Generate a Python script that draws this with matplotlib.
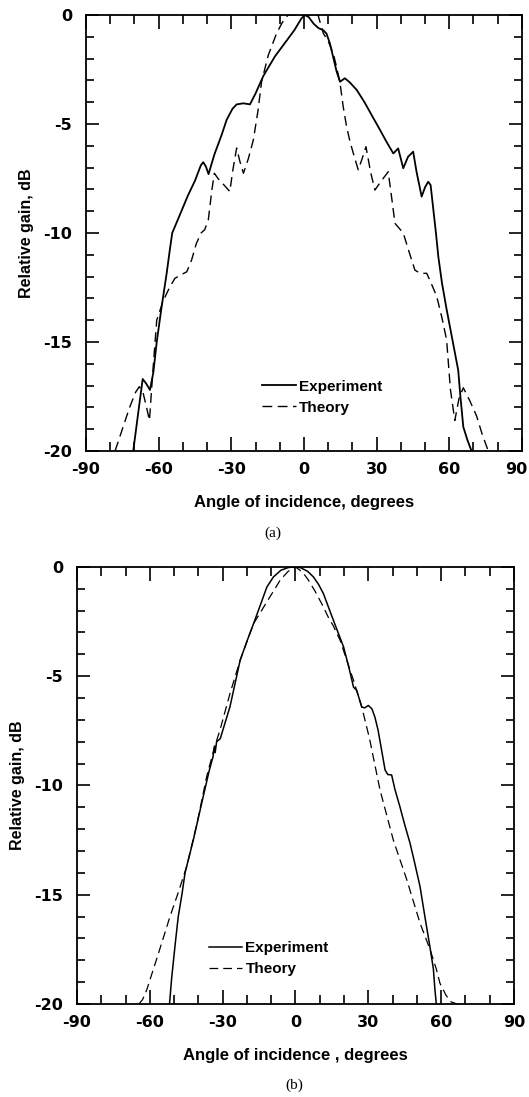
import matplotlib
matplotlib.use("Agg")
import matplotlib.pyplot as plt
import matplotlib.transforms as mtransforms
from matplotlib.ticker import MultipleLocator

# (a) experiment, solid
ang_exp_a = [-70.5, -68.5, -66.6, -65.2, -63.6, -62.2, -60.8, -58.8, -56.7, -55.3,
             -54.4, -51.0, -48.0, -45.0, -42.6, -41.6, -40.5, -39.4, -37.0, -34.0,
             -31.9, -29.5, -27.8, -25.0, -22.3, -20.0, -16.8, -12.0, -8.0, -4.0,
             -1.0, 0.4, 2.0, 4.0, 6.0, 8.0, 9.3, 10.7, 12.0, 13.5,
             14.9, 16.9, 19.0, 21.8, 25.0, 28.0, 31.4, 34.0, 36.9, 38.9,
             41.0, 43.0, 45.1, 46.5, 48.6, 50.0, 51.3, 52.3, 53.3, 54.5,
             55.5, 57.0, 58.9, 61.6, 63.7, 64.6, 65.8, 67.5, 69.2]
gain_exp_a = [-20.0, -18.3, -16.7, -16.9, -17.2, -16.4, -15.0, -13.4, -11.85, -10.7,
              -10.0, -9.1, -8.3, -7.6, -6.9, -6.75, -6.95, -7.3, -6.4, -5.5,
              -4.8, -4.3, -4.1, -4.05, -4.1, -3.6, -2.8, -1.9, -1.3, -0.7,
              -0.15, 0.0, -0.1, -0.4, -0.6, -0.7, -0.85, -1.3, -1.9, -2.6,
              -3.06, -2.9, -3.1, -3.44, -4.0, -4.6, -5.27, -5.8, -6.35, -6.12,
              -7.03, -6.5, -6.27, -7.2, -8.33, -7.9, -7.65, -7.8, -8.8, -10.0,
              -11.1, -12.3, -13.5, -15.07, -16.3, -17.5, -18.9, -19.5, -20.0]

# (a) theory, dashed
ang_th_a = [-78.0, -75.0, -72.0, -69.5, -68.0, -66.5, -65.0, -63.8, -62.5, -60.8,
            -58.1, -55.5, -53.3, -50.5, -48.4, -46.4, -44.5, -42.5, -41.0, -39.5,
            -38.0, -37.0, -35.5, -33.0, -30.6, -29.5, -27.8, -26.5, -25.0, -23.0,
            -20.9, -19.0, -17.5, -14.7, -11.3, -9.0, -6.6, 0.0, 5.8, 8.0,
            10.0, 12.1, 13.5, 14.9, 16.2, 17.6, 19.0, 20.4, 22.4, 24.0,
            25.6, 27.5, 29.3, 32.0, 34.8, 36.0, 37.6, 41.0, 43.5, 45.8,
            48.0, 50.7, 52.5, 54.8, 57.0, 58.9, 59.8, 60.5, 62.3, 64.0,
            65.8, 68.5, 71.3, 73.5, 76.1]
gain_th_a = [-20.0, -19.0, -18.0, -17.3, -17.05, -17.3, -18.0, -18.6, -16.5, -14.0,
             -13.1, -12.5, -12.08, -11.9, -11.78, -11.24, -10.5, -10.0, -9.85, -9.4,
             -8.0, -7.26, -7.5, -7.8, -8.1, -7.2, -6.1, -6.7, -7.26, -6.6,
             -5.73, -4.4, -3.06, -1.83, -0.84, -0.35, 0.0, 0.0, 0.0, -0.84,
             -1.2, -1.76, -2.4, -3.13, -4.2, -5.12, -5.8, -6.35, -7.1, -6.6,
             -6.04, -7.2, -8.03, -7.6, -7.19, -8.2, -9.56, -10.0, -10.9, -11.7,
             -11.85, -11.85, -12.3, -12.9, -13.9, -14.9, -16.2, -17.2, -18.6, -17.6,
             -17.1, -17.7, -18.4, -19.2, -20.0]

# (b) experiment, solid
ang_exp_b = [-51.9, -51.0, -49.5, -48.3, -46.8, -45.5, -42.1, -38.0, -35.5, -34.0,
             -33.4, -33.1, -32.5, -31.0, -27.0, -22.8, -20.0, -17.3, -14.0, -11.8,
             -9.1, -6.0, -3.0, -0.8, 2.0, 5.0, 7.4, 9.5, 11.5, 15.6,
             19.8, 22.0, 23.9, 25.2, 27.3, 28.5, 30.0, 31.5, 32.7, 34.0,
             36.9, 38.0, 39.6, 41.0, 43.0, 45.0, 47.2, 49.0, 51.3, 53.3,
             55.4, 56.8, 57.4, 58.0]
gain_exp_b = [-20.0, -18.8, -17.2, -16.0, -15.0, -14.0, -12.5, -10.5, -9.3, -8.7,
              -8.2, -8.5, -8.0, -7.86, -6.4, -4.27, -3.4, -2.6, -1.6, -0.92,
              -0.46, -0.15, -0.03, 0.0, -0.03, -0.2, -0.46, -0.8, -1.22, -2.44,
              -3.66, -4.6, -5.5, -5.65, -6.41, -6.45, -6.34, -6.5, -6.87, -7.46,
              -9.29, -9.5, -9.52, -10.2, -10.97, -11.8, -12.65, -13.5, -14.63, -16.0,
              -17.4, -18.4, -19.3, -20.0]

# (b) theory, dashed
ang_th_b = [-64.5, -63.0, -61.3, -56.5, -51.7, -48.0, -44.8, -40.5, -36.6, -33.5,
            -31.1, -27.0, -22.8, -17.3, -14.0, -10.5, -9.0, -6.3, -3.0, 0.0,
            3.0, 5.3, 8.0, 11.5, 13.5, 15.6, 18.4, 21.1, 23.9, 27.3,
            30.5, 34.8, 40.3, 45.8, 51.3, 55.4, 58.0, 59.5, 62.0, 64.0, 66.5]
gain_th_b = [-20.0, -19.8, -19.36, -17.7, -16.0, -14.8, -13.7, -11.7, -9.6, -8.3,
             -7.46, -5.8, -4.27, -2.6, -2.0, -1.36, -1.1, -0.6, -0.2, 0.0,
             -0.25, -0.6, -1.1, -1.83, -2.3, -2.7, -3.36, -4.27, -5.19, -6.41,
             -7.86, -10.2, -12.5, -14.3, -16.3, -17.5, -18.4, -19.05, -19.6, -19.9, -20.0]

xticks = [-90, -60, -30, 0, 30, 60, 90]
yticks = [0, -5, -10, -15, -20]

plt.rcParams['axes.unicode_minus'] = False
plt.rcParams['font.family'] = ['Liberation Sans', 'DejaVu Sans']

fig = plt.figure(figsize=(5.29, 10.97), dpi=100)
ax1 = fig.add_axes([0.1626, 0.5889, 0.824, 0.3974])
ax2 = fig.add_axes([0.1456, 0.0848, 0.826, 0.3984])


def style(ax, xlabel, legend_xy):
    ax.set_xlim(-90, 90)
    ax.set_ylim(-20, 0)
    ax.set_xticks(xticks)
    ax.set_yticks(yticks)
    ax.xaxis.set_minor_locator(MultipleLocator(10))
    ax.yaxis.set_minor_locator(MultipleLocator(1))
    ax.tick_params(which='both', direction='in', top=True, right=True, width=1.2)
    ax.tick_params(axis='x', which='major', length=10, pad=8)
    ax.tick_params(axis='x', which='minor', length=6.5)
    ax.tick_params(axis='y', which='major', length=9.5, pad=10)
    ax.tick_params(axis='y', which='minor', length=5.5)
    for lab in ax.get_xticklabels() + ax.get_yticklabels():
        lab.set_family('DejaVu Sans')
        lab.set_fontweight('bold')
        lab.set_fontsize(11.5)
    for sp in ax.spines.values():
        sp.set_linewidth(1.3)
    ax.set_xlabel(xlabel, fontsize=12, fontweight='bold', labelpad=13)
    ax.set_ylabel('Relative gain, dB', fontsize=11.5, fontweight='bold', labelpad=7)
    ax.legend(loc='upper left', bbox_to_anchor=legend_xy, frameon=False,
              handlelength=2.2, handletextpad=0.2, labelspacing=0.45,
              prop={'weight': 'bold', 'size': 11})


ax1.plot(ang_exp_a, gain_exp_a, color='black', lw=1.3, label='Experiment')
ax1.plot(ang_th_a, gain_th_a, color='black', lw=1.0, dashes=(7, 4), label='Theory')
style(ax1, 'Angle of incidence, degrees', (0.372, 0.195))

# keep the "90" of (a) inside the page edge
last = ax1.get_xticklabels()[-1]
last.set_transform(last.get_transform() +
                   mtransforms.ScaledTranslation(-6 / 100, 0, fig.dpi_scale_trans))

ax2.plot(ang_exp_b, gain_exp_b, color='black', lw=1.1, label='Experiment')
ax2.plot(ang_th_b, gain_th_b, color='black', lw=0.9, dashes=(7, 4), label='Theory')
style(ax2, 'Angle of incidence , degrees', (0.27, 0.175))

fig.text(0.516, 0.514, '(a)', ha='center', va='center', fontsize=11,
         family='Liberation Serif')
fig.text(0.557, 0.011, '(b)', ha='center', va='center', fontsize=11,
         family='Liberation Serif')

fig.savefig('out.png', dpi=100)
